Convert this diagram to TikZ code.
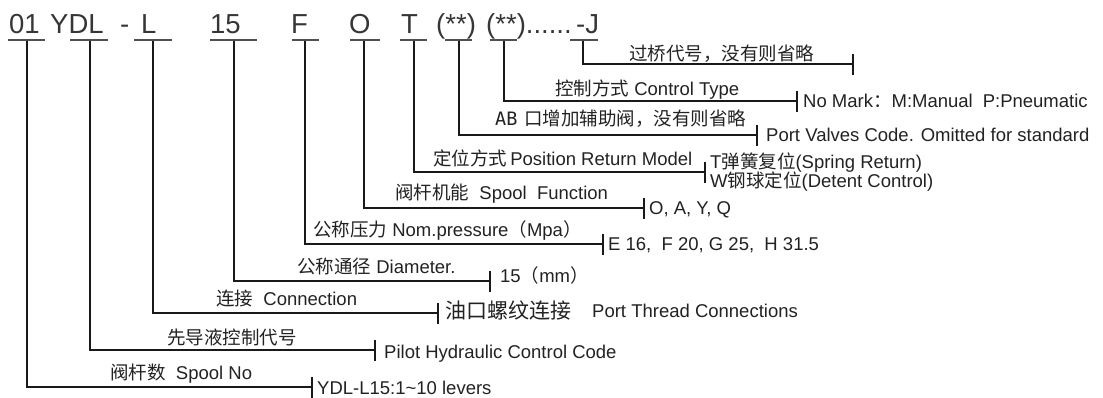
\documentclass[tikz,border=0pt]{standalone}
\usepackage{fontspec}
\setmainfont{Liberation Sans}
\newfontfamily\cjk{Noto Sans CJK SC}
\newfontfamily\monof{DejaVu Sans Mono}
\definecolor{txtdark}{HTML}{222222}
\definecolor{txtcode}{HTML}{363636}
\definecolor{ulgray}{HTML}{505050}
\begin{document}
\begin{tikzpicture}[x=1pt,y=-1pt,
  code/.style={anchor=base west,inner sep=0,font=\fontsize{27.5}{30}\selectfont,text=txtcode},
  lbl/.style={anchor=base west,inner sep=0,font=\fontsize{18.5}{20}\selectfont,text=txtdark},
  biglbl/.style={anchor=base west,inner sep=0,font=\fontsize{21}{24}\selectfont,text=txtdark},
  conn/.style={line width=1.3pt,draw=black!90},
  uline/.style={line width=2pt,draw=ulgray},
]
\useasboundingbox (0,0) rectangle (1103,397);

% code letters
\node[code] (c01) at (9,33) {01};
\node[code] (cydl) at (50,33) {YDL};
\node[code] (cdash) at (120,33) {-};
\node[code] (cl) at (141,33) {L};
\node[code] (c15) at (210,33) {15};
\node[code] (cf) at (291,33) {F};
\node[code] (co) at (349,33) {O};
\node[code] (ct) at (401,33) {T};
\node[code] (cab) at (436,33) {(**)};
\node[code] (cctl) at (486,33) {(**)......};
\node[code] (cj) at (576,33) {-J};

% underlines
\foreach \n/\a/\b in {01/8/45, ydl/70/108, l/134/172, 15/210/257, f/292/319, o/350/380, t/400/427, ab/445/472, ctl/490/517, j/570/598}{
  \draw[uline] (\a,39.5) coordinate (ua\n) -- (\b,39.5) coordinate (ub\n);
}

% connectors: name / vertical x / horizontal y / tick x
\foreach \n/\vx/\hy/\tx in {j/583/64/853, ctl/504/101/797, ab/459/135/757, t/414/172/705, o/364/208/644, f/305/244/603, 15/234/281/490, l/153/313/438, ydl/90/350/375, 01/27/387/312}{
  \coordinate (v\n) at (\vx,40.5);
  \coordinate (e\n) at (\tx,\hy);
  \draw[conn] (v\n) |- (e\n);
  \draw[conn] ([yshift=10.5pt]e\n) -- ([yshift=-10.5pt]e\n);
}

% labels above the lines
\node[lbl] (lj) at (629,60) {\cjk 过桥代号，没有则省略};
\node[lbl] (lctl) at (555,95) {{\cjk 控制方式} Control Type};
\node[lbl] (lab) at (495,125) {{\monof AB}\hspace{7pt}{\cjk 口增加辅助阀，没有则省略}};
\node[lbl] (lt) at (433,165) {{\cjk 定位方式}\,Position Return Model};
\node[lbl] (lo) at (395,199) {{\cjk 阀杆机能}\ \ Spool\ \ Function};
\node[lbl] (lf) at (313,236) {{\cjk 公称压力} Nom.pressure{\cjk （}Mpa{\cjk ）}};
\node[lbl] (l15) at (297,273) {{\cjk 公称通径} Diameter.};
\node[lbl] (ll) at (216,305) {{\cjk 连接}\ \ Connection};
\node[lbl] (lydl) at (167,344) {\cjk 先导液控制代号};
\node[lbl] (l01) at (110,379) {{\cjk 阀杆数}\ \ Spool No};

% option texts right of the ticks
\node[lbl] (oj) at (803,107) {No Mark{\cjk ：}M:Manual\hspace{10pt}P:Pneumatic};
\node[lbl] (oab) at (766,141) {Port Valves Code. Omitted for standard};
\node[lbl] (ot1) at (710,168) {T{\cjk 弹簧复位}(Spring Return)};
\node[lbl] (ot2) at (710,187) {W{\cjk 钢球定位}(Detent Control)};
\node[lbl] (oo) at (649,214) {O, A, Y, Q};
\node[lbl] (of) at (608,250) {E 16,\ \ F 20, G 25,\ \ H 31.5};
\node[lbl] (o15) at (500,282) {15{\cjk （}mm{\cjk ）}};
\node[biglbl] (ol) at (445,318) {\cjk 油口螺纹连接};
\node[lbl] (ol2) at (592,317) {Port Thread Connections};
\node[lbl] (oydl) at (384,358) {Pilot Hydraulic Control Code};
\node[lbl] (o01) at (317,394) {YDL-L15:1\textasciitilde10 levers};
\end{tikzpicture}
\end{document}
